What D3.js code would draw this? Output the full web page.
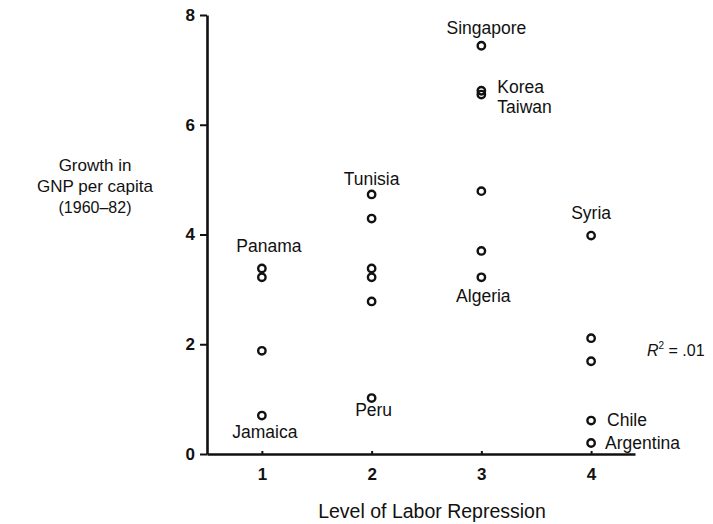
<!DOCTYPE html>
<html>
<head>
<meta charset="utf-8">
<script src="https://cdn.jsdelivr.net/npm/d3@7"></script>
<style>
  body { margin: 0; background: #fff; }
  text { font-family: "Liberation Sans", Arial, sans-serif; fill: #111; }
</style>
</head>
<body>
<svg id="chart" width="713" height="524"></svg>
<script>
// data: level of labor repression vs growth in GNP per capita
var levels = [1, 1, 1, 1,
              2, 2, 2, 2, 2, 2,
              3, 3, 3, 3, 3, 3,
              4, 4, 4, 4, 4];
var growth = [3.38, 3.22, 1.88, 0.70,
              4.73, 4.29, 3.38, 3.22, 2.78, 1.02,
              7.44, 6.62, 6.55, 4.79, 3.70, 3.22,
              3.98, 2.11, 1.69, 0.61, 0.20];
var names = ["Panama", "", "", "Jamaica",
             "Tunisia", "", "", "", "", "Peru",
             "Singapore", "Korea", "Taiwan", "", "", "Algeria",
             "Syria", "", "", "Chile", "Argentina"];
var xTicks = [1, 2, 3, 4];
var yTicks = [0, 2, 4, 6, 8];

window.onload = function() {

	var svg = d3.select("#chart");

	// scales
	var x = d3.scaleLinear().domain([0.5, 4.4]).range([207, 635]);
	var y = d3.scaleLinear().domain([0, 8]).range([454, 15]);

	// axes
	var yAxis = svg.append("g")
		.attr("transform", "translate(207,0)")
		.call(d3.axisLeft(y).tickValues(yTicks).tickFormat(d3.format("d"))
			.tickSize(7).tickSizeOuter(0).tickPadding(5));

	var xAxis = svg.append("g")
		.attr("transform", "translate(0,454)")
		.call(d3.axisBottom(x).tickValues(xTicks).tickFormat(d3.format("d"))
			.tickSize(-3).tickSizeOuter(0).tickPadding(14));

	[xAxis, yAxis].forEach(function(a) {
		a.select(".domain").attr("stroke", "#111").attr("stroke-width", 2.6);
		a.selectAll(".tick line").attr("stroke", "#111").attr("stroke-width", 2);
		a.selectAll(".tick text")
			.style("font-family", "Liberation Sans, Arial, sans-serif")
			.style("font-size", "17px")
			.style("font-weight", "bold")
			.attr("fill", "#111");
	});

	// points
	var pts = levels.map(function(d, i) { return {lev: d, val: growth[i], name: names[i]}; });

	svg.append("g").selectAll("circle")
		.data(pts)
		.enter().append("circle")
		.attr("cx", function(d) { return x(d.lev); })
		.attr("cy", function(d) { return y(d.val); })
		.attr("r", 3.7)
		.attr("fill", "none")
		.attr("stroke", "#111")
		.attr("stroke-width", 2.4);

	// label placement relative to its point
	var place = {
		"Panama":    {dx: 7,  dy: -17, anchor: "middle"},
		"Jamaica":   {dx: 3,  dy: 22,  anchor: "middle"},
		"Tunisia":   {dx: 0,  dy: -9,  anchor: "middle"},
		"Peru":      {dx: 2,  dy: 18,  anchor: "middle"},
		"Singapore": {dx: 5,  dy: -12, anchor: "middle"},
		"Korea":     {dx: 16, dy: 2,   anchor: "start"},
		"Taiwan":    {dx: 16, dy: 18,  anchor: "start"},
		"Algeria":   {dx: 2,  dy: 25,  anchor: "middle"},
		"Syria":     {dx: 0,  dy: -17, anchor: "middle"},
		"Chile":     {dx: 16, dy: 5,   anchor: "start"},
		"Argentina": {dx: 14, dy: 6,   anchor: "start"}
	};

	svg.append("g").selectAll("text")
		.data(pts.filter(function(d) { return d.name; }))
		.enter().append("text")
		.attr("x", function(d) { return x(d.lev) + place[d.name].dx; })
		.attr("y", function(d) { return y(d.val) + place[d.name].dy; })
		.attr("text-anchor", function(d) { return place[d.name].anchor; })
		.style("font-size", "17.5px")
		.text(function(d) { return d.name; });

	// R squared note
	var r2 = svg.append("text")
		.attr("x", 647)
		.attr("y", 356)
		.style("font-size", "16px");
	r2.append("tspan").style("font-style", "italic").text("R");
	r2.append("tspan").attr("dy", -7).style("font-size", "10px").text("2");
	r2.append("tspan").attr("dy", 7).text(" = .01");

	// axis titles
	var yTitle = ["Growth in", "GNP per capita", "(1960\u201382)"];
	svg.append("g").selectAll("text")
		.data(yTitle)
		.enter().append("text")
		.attr("x", 95)
		.attr("y", function(d, i) { return 171 + i * 21; })
		.attr("text-anchor", "middle")
		.style("font-size", function(d, i) { return i == 2 ? "16px" : "17px"; })
		.text(function(d) { return d; });

	svg.append("text")
		.attr("x", 432)
		.attr("y", 518)
		.attr("text-anchor", "middle")
		.style("font-size", "19.5px")
		.text("Level of Labor Repression");
};
</script>
</body>
</html>
